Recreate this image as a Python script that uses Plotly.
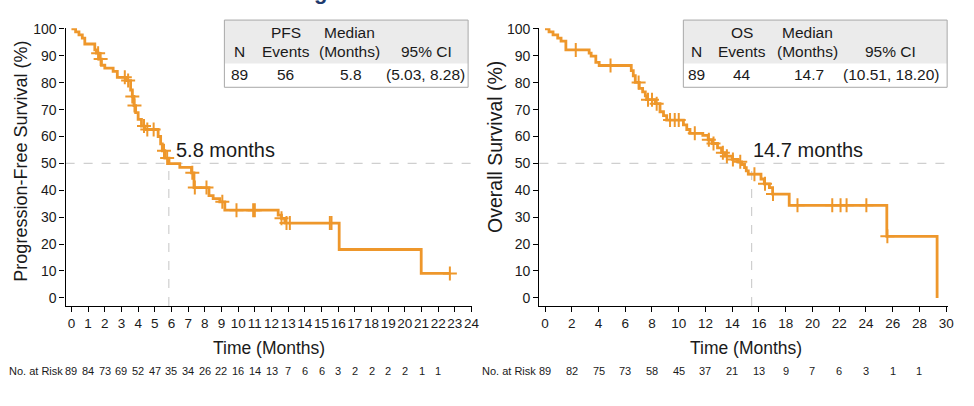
import plotly.graph_objects as go

# ---------------- data ----------------
pfs_times = [0.25, 0.45, 0.65, 0.8, 1.4, 1.5, 1.65, 1.8, 2.0, 2.5, 2.75, 3.3, 3.55, 3.65, 3.75,
             3.85, 4.0, 4.2, 4.4, 5.2, 5.35, 5.45, 5.6, 5.85, 6.5, 7.2, 7.35, 8.25, 8.5, 8.9,
             9.2, 12.4, 12.6, 12.8, 16.06, 20.98]
pfs_surv = [98.9, 97.8, 96.6, 94.4, 92.2, 91.0, 88.8, 86.5, 85.4, 84.2, 82.0, 80.8, 77.3, 74.9, 71.5,
            68.9, 66.4, 63.9, 62.6, 60.0, 57.3, 54.7, 52.0, 49.9, 48.5, 46.5, 41.0, 38.0, 36.9, 35.7,
            32.6, 30.8, 29.6, 27.8, 18.0, 9.1]
pfs_last_time = 22.7
pfs_censor = [1.6, 1.75, 3.2, 3.4, 3.65, 3.78, 4.35, 4.55, 4.93, 5.55, 5.74, 7.25, 7.4, 8.1, 9.05,
              9.9, 10.9, 11.0, 12.6, 12.9, 13.1, 15.5, 15.6, 22.7]

os_times = [0.3, 0.6, 0.95, 1.2, 1.56, 3.3, 3.45, 3.8, 4.05, 6.45, 6.6, 6.75, 7.05, 7.3, 7.5, 7.6,
            8.24, 8.6, 8.86, 9.1, 10.35, 10.6, 10.84, 11.8, 12.2, 12.5, 12.9, 13.2, 13.45, 14.0,
            14.4, 14.7, 14.92, 15.05, 15.2, 16.15, 16.4, 16.78, 17.02, 18.26, 25.56, 29.32]
os_surv = [98.9, 97.8, 96.6, 95.5, 92.2, 91.0, 89.9, 87.6, 86.4, 84.5, 82.6, 80.1, 77.9, 76.6, 75.1, 73.7,
           72.2, 69.2, 67.8, 66.1, 64.3, 62.6, 61.2, 60.4, 58.8, 57.4, 55.8, 54.0, 52.7, 51.5,
           50.6, 49.6, 48.4, 47.2, 46.0, 44.2, 42.4, 41.0, 38.6, 34.4, 22.9, 0.0]
os_censor = [2.3, 4.9, 7.0, 7.7, 8.0, 8.35, 9.35, 9.7, 10.0, 11.2, 12.25, 12.6, 13.3, 13.6, 14.05,
             14.6, 15.66, 16.45, 17.05, 18.88, 21.48, 22.1, 22.55, 24.03, 25.6]

pfs_median_line = 5.84
os_median_line = 15.45

pfs_risk_months = list(range(0, 23))
pfs_at_risk = [89, 84, 73, 69, 52, 47, 35, 34, 26, 22, 16, 14, 13, 7, 6, 6, 3, 2, 2, 2, 2, 1, 1]
os_risk_months = list(range(0, 29, 2))
os_at_risk = [89, 82, 75, 73, 58, 45, 37, 21, 13, 9, 7, 6, 3, 1, 1]

pfs_table = {"N": "89", "events": "56", "median": "5.8", "ci": "(5.03, 8.28)"}
os_table = {"N": "89", "events": "44", "median": "14.7", "ci": "(10.51, 18.20)"}

# ---------------- helpers ----------------
W, H = 974, 406
ORANGE = "#EE972B"
FONT = "Liberation Sans, Arial, sans-serif"
TXT = "#1a1a1a"


def px(x):
    return x / W


def py(y):
    return 1 - y / H


def surv_at(times, surv, t):
    s = 100.0
    for ti, si in zip(times, surv):
        if ti <= t:
            s = si
    return s


fig = go.Figure()

censor_marker = dict(symbol="cross-thin", size=10, color=ORANGE, line=dict(color=ORANGE, width=2))

# PFS curve
fig.add_trace(go.Scatter(x=[0] + pfs_times + [pfs_last_time], y=[100] + pfs_surv + [pfs_surv[-1]],
                         mode="lines", line=dict(color=ORANGE, width=2.8, shape="hv"),
                         xaxis="x", yaxis="y", showlegend=False, hoverinfo="skip"))
fig.add_trace(go.Scatter(x=pfs_censor, y=[surv_at(pfs_times, pfs_surv, t) for t in pfs_censor],
                         mode="markers", marker=censor_marker,
                         xaxis="x", yaxis="y", showlegend=False, hoverinfo="skip"))
# OS curve
fig.add_trace(go.Scatter(x=[0] + os_times, y=[100] + os_surv,
                         mode="lines", line=dict(color=ORANGE, width=2.8, shape="hv"),
                         xaxis="x2", yaxis="y2", showlegend=False, hoverinfo="skip"))
fig.add_trace(go.Scatter(x=os_censor, y=[surv_at(os_times, os_surv, t) for t in os_censor],
                         mode="markers", marker=censor_marker,
                         xaxis="x2", yaxis="y2", showlegend=False, hoverinfo="skip"))

axis_common = dict(showline=True, linecolor="black", linewidth=1.4, ticks="outside", ticklen=5,
                   tickwidth=1.3, tickcolor="black", showgrid=False, zeroline=False,
                   tickangle=0, tickfont=dict(family=FONT, size=14, color=TXT), fixedrange=True)

ydom = [py(304.2), py(21.5)]
fig.update_layout(
    width=W, height=H, margin=dict(l=0, r=0, t=0, b=0),
    paper_bgcolor="white", plot_bgcolor="white",
    xaxis=dict(domain=[px(66.1), px(475.8)], range=[-0.35, 24.05], tick0=0, dtick=1,
               anchor="y", **axis_common),
    yaxis=dict(domain=ydom, range=[-3, 100.3], tick0=0, dtick=10, anchor="x", **axis_common),
    xaxis2=dict(domain=[px(543.3), px(954.4)], range=[-0.42, 30.1], tick0=0, dtick=2,
                anchor="y2", **axis_common),
    yaxis2=dict(domain=ydom, range=[-3, 100.3], tick0=0, dtick=10, anchor="x2", **axis_common),
)
fig.update_xaxes(tickfont=dict(size=13.5))

shapes = []
dash_line = dict(color="#cfcfcf", width=1.2, dash="dash")
for xr, yr, med in (("x", "y", pfs_median_line), ("x2", "y2", os_median_line)):
    shapes.append(dict(type="line", xref=xr + " domain", yref=yr, x0=0, x1=1, y0=50, y1=50,
                       line=dash_line, layer="below"))
    shapes.append(dict(type="line", xref=xr, yref=yr, x0=med, x1=med, y0=-3, y1=50,
                       line=dash_line, layer="below"))

annotations = []


def txt(x, y, s, size=15.5, xanchor="center", yanchor="middle", **kw):
    annotations.append(dict(x=px(x), y=py(y), xref="paper", yref="paper", text=s, showarrow=False,
                            xanchor=xanchor, yanchor=yanchor,
                            font=dict(family=FONT, size=size, color=TXT), **kw))


# tables
for (x0, x1, cols, label, tbl, ci_x) in (
        (226, 471.5, (241, 288, 352, 430), "PFS", pfs_table, 429),
        (688.3, 954, (701.7, 747, 813.3, 897), "OS", os_table, 898)):
    shapes.append(dict(type="rect", xref="paper", yref="paper", x0=px(x0), x1=px(x1),
                       y0=py(57.5), y1=py(13.3), fillcolor="#ebebeb", line=dict(width=0)))
    shapes.append(dict(type="rect", xref="paper", yref="paper", x0=px(x0), x1=px(x1),
                       y0=py(81.7), y1=py(13.3), fillcolor="rgba(0,0,0,0)",
                       line=dict(color="#a8a8a8", width=1)))
    cN, cE, cM, cC = cols
    txt(cE, 25.5, label)
    txt(cM, 25.5, "Median")
    txt(cN, 45, "N")
    txt(cE, 45, "Events")
    txt(cM, 45, "(Months)")
    txt(cC, 45, "95% CI")
    txt(cN, 68.5, tbl["N"])
    txt(cE, 68.5, tbl["events"])
    txt(cM + 1.5, 68.5, tbl["median"])
    txt(ci_x, 68.5, tbl["ci"])

# median labels
txt(175.5, 145, "5.8 months", size=20, xanchor="left")
txt(756.5, 145, "14.7 months", size=20, xanchor="left")

# axis titles
txt(271, 346.5, "Time (Months)", size=17.5)
txt(751, 346.5, "Time (Months)", size=17.5)
txt(21.5, 157, "Progression-Free Survival (%)", size=18, textangle=-90)
txt(498, 142, "Overall Survival (%)", size=19.5, textangle=-90)

# number at risk rows
RISK_FONT = "Liberation Sans Narrow, Arial Narrow, Liberation Sans, Arial, sans-serif"
for xr, months, vals, lab_x in (("x", pfs_risk_months, pfs_at_risk, 65.5),
                                ("x2", os_risk_months, os_at_risk, 542)):
    annotations.append(dict(x=px(lab_x), y=py(379), xref="paper", yref="paper",
                            text="No. at Risk", showarrow=False, xanchor="right",
                            font=dict(family=RISK_FONT, size=11, color=TXT)))
    for m, v in zip(months, vals):
        annotations.append(dict(x=m, y=py(379), xref=xr, yref="paper", text=str(v),
                                showarrow=False, xanchor="center",
                                font=dict(family=RISK_FONT, size=11, color=TXT)))

# clipped title fragment at top (only its descender is visible in the source)
annotations.append(dict(x=px(323), y=py(-1.5), xref="paper", yref="paper", text="<b>g</b>",
                        showarrow=False, xanchor="center", yanchor="bottom",
                        font=dict(family=FONT, size=22, color="#1F3A6E")))

fig.update_layout(shapes=shapes, annotations=annotations)
fig.write_html("out.html")
